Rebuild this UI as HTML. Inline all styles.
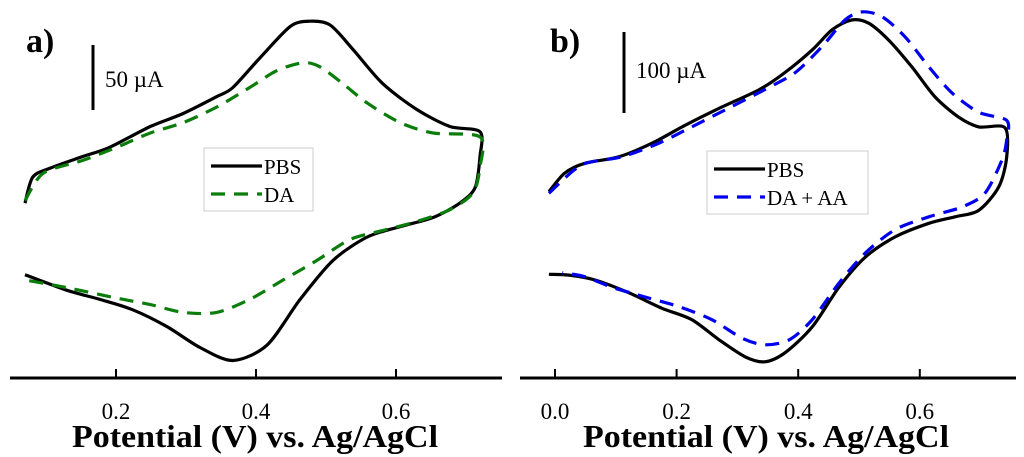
<!DOCTYPE html>
<html><head><meta charset="utf-8"><style>
html,body{margin:0;padding:0;background:#fff;}
svg{display:block;font-family:"Liberation Serif",serif;}
</style></head><body>
<svg id="fig" width="1024" height="457" viewBox="0 0 1024 457">
<g id="pa"></g>
<g id="pb"></g>
</svg>
<script>
// Panel a data (potential V, current µA relative)
const aTicks = [0.2, 0.4, 0.6];
const aPbsV = [0.070,0.081,0.106,0.153,0.191,0.249,0.296,0.344,0.367,0.406,0.449,0.477,0.506,0.539,0.581,0.630,0.677,0.720,0.720,0.713,0.691,0.653,0.606,0.559,0.510,0.463,0.416,0.367,0.320,0.273,0.224,0.177,0.130,0.070];
const aPbsI = [36,56,63,72,79,95,105,118,125,148,172,176,173,154,128,108,95,91,72,48,36,25,18,10,-8,-38,-73,-85,-75,-59,-46,-38,-31,-19];
const aDaV = [0.070,0.096,0.153,0.201,0.249,0.296,0.344,0.391,0.430,0.467,0.491,0.524,0.559,0.606,0.653,0.720,0.720,0.710,0.677,0.630,0.581,0.534,0.487,0.439,0.391,0.344,0.296,0.249,0.201,0.130,0.070];
const aDaI = [38,59,69,79,90,98,110,125,138,144,141,128,113,98,90,87,64,44,31,22,15,8,-8,-23,-38,-48,-48,-42,-37,-29,-23];
// Panel b data
const bTicks = [0.0, 0.2, 0.4, 0.6];
const bPbsV = [-0.010,0.016,0.049,0.105,0.160,0.214,0.270,0.336,0.378,0.423,0.456,0.488,0.516,0.549,0.587,0.625,0.664,0.697,0.740,0.743,0.730,0.697,0.658,0.615,0.559,0.510,0.467,0.423,0.378,0.345,0.313,0.270,0.225,0.176,0.122,0.066,0.023,-0.010];
const bPbsI = [72,95,107,115,132,154,175,198,219,247,272,284,280,259,226,189,164,152,151,115,78,49,41,33,16,-9,-46,-95,-127,-138,-132,-111,-86,-72,-53,-37,-31,-30];
const bDaV = [-0.010,0.044,0.110,0.171,0.225,0.280,0.345,0.395,0.439,0.477,0.505,0.538,0.576,0.615,0.653,0.697,0.743,0.743,0.735,0.707,0.669,0.615,0.559,0.510,0.467,0.423,0.385,0.345,0.308,0.258,0.204,0.148,0.094,0.049,0.012];
const bDaI = [70,105,115,132,152,173,198,219,251,284,294,288,263,226,194,170,160,136,111,70,53,41,25,-4,-41,-86,-111,-117,-109,-86,-70,-58,-46,-33,-28];

const NS="http://www.w3.org/2000/svg";
function mk(parent,tag,attrs,text){const e=document.createElementNS(NS,tag);for(const k in attrs)e.setAttribute(k,attrs[k]);if(text!==undefined)e.textContent=text;parent.appendChild(e);return e;}
function smooth(pts){let d=`M${pts[0][0].toFixed(1)},${pts[0][1].toFixed(1)}`;for(let i=0;i<pts.length-1;i++){const p0=pts[Math.max(0,i-1)],p1=pts[i],p2=pts[i+1],p3=pts[Math.min(pts.length-1,i+2)];const t=7;d+=` C${(p1[0]+(p2[0]-p0[0])/t).toFixed(1)},${(p1[1]+(p2[1]-p0[1])/t).toFixed(1)} ${(p2[0]-(p3[0]-p1[0])/t).toFixed(1)},${(p2[1]-(p3[1]-p1[1])/t).toFixed(1)} ${p2[0].toFixed(1)},${p2[1].toFixed(1)}`;}return d;}

function panel(g,cfg){
  const xs=v=>cfg.x0+(v-cfg.v0)*cfg.pxPerV;
  const ys=i=>250-i*cfg.pxPerI;
  const ax=mk(g,'line',{x1:cfg.axL,x2:cfg.axR,y1:378,y2:378,stroke:'#000','stroke-width':3});
  
  
  cfg.ticks.forEach(t=>{
    const tk=mk(g,'line',{x1:xs(t),x2:xs(t),y1:369,y2:378,stroke:'#000','stroke-width':2});
    
    
    const tl=mk(g,'text',{x:xs(t),y:419,'text-anchor':'middle','font-size':23},t.toFixed(1));
    
    
  });
  const tt=mk(g,'text',{x:cfg.titleX,y:447,'text-anchor':'middle','font-size':32,'font-weight':'bold',textLength:366,lengthAdjust:'spacingAndGlyphs'},'Potential (V) vs. Ag/AgCl');
  
  
  const lab=mk(g,'text',{x:cfg.labX,y:52,'font-size':34,'font-weight':'bold'},cfg.label);
  
  
  const sb=mk(g,'line',{x1:cfg.sbX,x2:cfg.sbX,y1:cfg.sbY1,y2:cfg.sbY2,stroke:'#000','stroke-width':3});
  
  
  const st=mk(g,'text',{x:cfg.sbX+12,y:cfg.sbTY,'font-size':23},cfg.sbText);
  
  
  cfg.series.forEach(s=>{
    const pts=s.v.map((v,k)=>[xs(v),ys(s.i[k])]);
    const p=mk(g,'path',{d:smooth(pts),fill:'none',stroke:s.color,'stroke-width':3.2,'stroke-dasharray':s.dash||'none','stroke-linejoin':'round'});
    
    
  });
  const L=cfg.leg;
  const lg=mk(g,'g',{});
  
  
  mk(lg,'rect',{x:L.x,y:L.y,width:L.w,height:63,fill:'#fff',stroke:'#ccc','stroke-width':1});
  cfg.series.forEach((s,k)=>{
    const yy=L.y+18+k*28;
    const ll=mk(lg,'line',{x1:L.x+7,x2:L.x+58,y1:yy,y2:yy,stroke:s.color,'stroke-width':3.2,'stroke-dasharray':s.dash||'none'});
    
    
    const lt=mk(lg,'text',{x:L.x+60,y:yy+8,'font-size':21},s.label);
    
    
  });
}
panel(document.getElementById('pa'),{x0:116,v0:0.2,pxPerV:700,pxPerI:1.3,axL:10,axR:502,ticks:aTicks,titleX:255,label:'a)',labX:26,
  sbX:93,sbY1:45,sbY2:110,sbTY:87,sbText:'50 µA',leg:{x:204,y:148,w:109},
  series:[{v:aPbsV,i:aPbsI,color:'#000',name:'pbs-curve',label:'PBS'},{v:aDaV,i:aDaI,color:'#0a7d0a',dash:'14,9',name:'da-curve',label:'DA'}]});
panel(document.getElementById('pb'),{x0:555,v0:0,pxPerV:608,pxPerI:0.81,axL:520,axR:1016,ticks:bTicks,titleX:766,label:'b)',labX:550,
  sbX:624,sbY1:32,sbY2:113,sbTY:78,sbText:'100 µA',leg:{x:707,y:151,w:161},
  series:[{v:bPbsV,i:bPbsI,color:'#000',name:'pbs-curve',label:'PBS'},{v:bDaV,i:bDaI,color:'#0000ee',dash:'14,9',name:'da-aa-curve',label:'DA + AA'}]});
</script>
</body></html>
